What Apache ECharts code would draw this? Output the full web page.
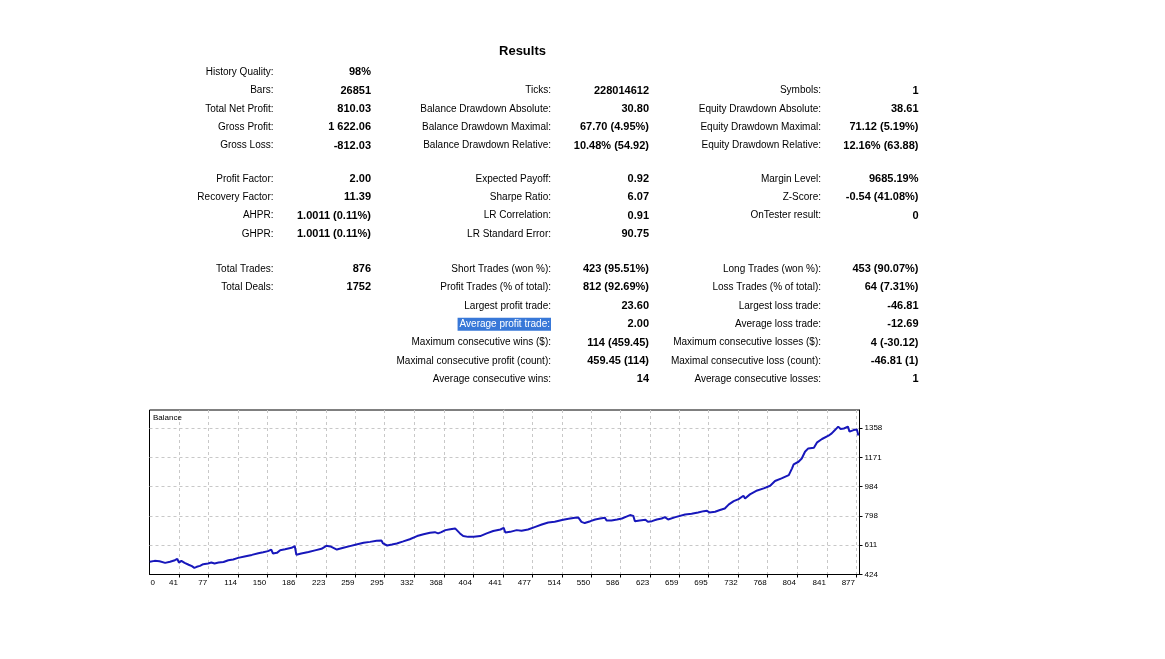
<!DOCTYPE html>
<html lang="en">
<head>
<meta charset="UTF-8">
<title>Results</title>
<script src="https://cdn.jsdelivr.net/npm/echarts@6/dist/echarts.min.js"></script>
<style>
    html, body { margin:0; padding:0; background:#fff; }
    #main { width:1165px; height:659px; }
</style>
</head>
<body>
<div id="main"></div>
<script>
// ---- report table (16 row slots, three label/value column pairs) ----
var col1Labels = ['History Quality:', 'Bars:', 'Total Net Profit:', 'Gross Profit:', 'Gross Loss:',
    'Profit Factor:', 'Recovery Factor:', 'AHPR:', 'GHPR:',
    'Total Trades:', 'Total Deals:', '', '', '', '', ''];
var col1Values = ['98%', '26851', '810.03', '1 622.06', '-812.03',
    '2.00', '11.39', '1.0011 (0.11%)', '1.0011 (0.11%)',
    '876', '1752', '', '', '', '', ''];
var col2Labels = ['', 'Ticks:', 'Balance Drawdown Absolute:', 'Balance Drawdown Maximal:', 'Balance Drawdown Relative:',
    'Expected Payoff:', 'Sharpe Ratio:', 'LR Correlation:', 'LR Standard Error:',
    'Short Trades (won %):', 'Profit Trades (% of total):', 'Largest profit trade:', 'Average profit trade:',
    'Maximum consecutive wins ($):', 'Maximal consecutive profit (count):', 'Average consecutive wins:'];
var col2Values = ['', '228014612', '30.80', '67.70 (4.95%)', '10.48% (54.92)',
    '0.92', '6.07', '0.91', '90.75',
    '423 (95.51%)', '812 (92.69%)', '23.60', '2.00', '114 (459.45)', '459.45 (114)', '14'];
var col3Labels = ['', 'Symbols:', 'Equity Drawdown Absolute:', 'Equity Drawdown Maximal:', 'Equity Drawdown Relative:',
    'Margin Level:', 'Z-Score:', 'OnTester result:', '',
    'Long Trades (won %):', 'Loss Trades (% of total):', 'Largest loss trade:', 'Average loss trade:',
    'Maximum consecutive losses ($):', 'Maximal consecutive loss (count):', 'Average consecutive losses:'];
var col3Values = ['', '1', '38.61', '71.12 (5.19%)', '12.16% (63.88)',
    '9685.19%', '-0.54 (41.08%)', '0', '',
    '453 (90.07%)', '64 (7.31%)', '-46.81', '-12.69', '4 (-30.12)', '-46.81 (1)', '1'];

// ---- balance curve: trade number / balance ----
var trades = [5, 11, 17, 24, 30, 36, 39, 41, 44, 48, 50, 53, 57, 60, 63, 67, 71, 77, 81, 85, 90, 96,
    102, 108, 114, 122, 131, 139, 145, 151, 155, 157, 162, 166, 172, 180, 184, 186, 192, 201, 209, 217,
    223, 228, 236, 244, 252, 260, 269, 277, 285, 291, 293, 298, 304, 310, 318, 326, 335, 343, 351, 357,
    361, 365, 370, 376, 382, 384, 388, 392, 398, 405, 413, 421, 429, 438, 442, 444, 450, 458, 464, 472,
    481, 489, 497, 505, 514, 522, 530, 534, 538, 542, 549, 555, 561, 567, 569, 575, 582, 588, 592, 598,
    602, 604, 610, 617, 620, 625, 631, 637, 641, 645, 654, 666, 674, 682, 689, 693, 696, 703, 709, 715,
    720, 726, 732, 738, 740, 746, 755, 763, 771, 777, 785, 794, 798, 800, 806, 810, 814, 818, 825, 829,
    835, 843, 847, 851, 855, 858, 862, 867, 869, 874, 878, 880];
var balance = [505, 511, 509, 498, 505, 515, 524, 500, 511, 498, 502, 486, 477, 466, 473, 479, 490, 494, 500, 494, 500, 504,
    515, 520, 530, 539, 549, 560, 566, 573, 583, 558, 562, 579, 585, 594, 605, 550, 558, 568, 578, 588,
    607, 603, 583, 594, 605, 615, 626, 632, 639, 641, 622, 609, 615, 622, 635, 649, 669, 681, 690, 694,
    686, 694, 707, 713, 718, 711, 686, 669, 664, 664, 669, 686, 701, 711, 722, 692, 696, 707, 703, 711,
    728, 743, 756, 760, 771, 779, 786, 788, 760, 752, 764, 775, 781, 786, 769, 769, 775, 781, 790, 803,
    798, 764, 769, 773, 760, 764, 775, 781, 790, 775, 790, 807, 811, 820, 828, 830, 820, 824, 835, 845,
    871, 892, 905, 926, 909, 935, 960, 973, 990, 1020, 1037, 1058, 1101, 1126, 1143, 1164, 1207, 1228, 1232, 1267,
    1288, 1309, 1324, 1345, 1367, 1352, 1355, 1367, 1335, 1345, 1349, 1310];

var xTicks = [41, 77, 114, 150, 186, 223, 259, 295, 332, 368, 404, 441, 477, 514, 550, 586, 623, 659, 695, 732, 768, 804, 841, 877];
var yTicks = [424, 611, 798, 984, 1171, 1358];

var xMin = 4.65, xMax = 881.3;
var yMin = 424, yMax = 1473;

var FONT = "'Liberation Sans', Arial, sans-serif";

function rowY(i) {
    if (i < 5) return 72.3 + i * 18.35;
    if (i < 9) return 178.8 + (i - 5) * 18.35;
    return 269 + (i - 9) * 18.4;
}

function txt(x, y, s, bold, extra) {
    var style = {
        text: s, fill: '#000',
        font: (bold ? 'bold 11px ' : '10px ') + FONT,
        align: 'right', textAlign: 'right',
        verticalAlign: 'middle', textVerticalAlign: 'middle'
    };
    if (extra) for (var k in extra) style[k] = extra[k];
    return { type: 'text', x: x, y: y, silent: true, style: style };
}

var graphics = [{
    type: 'text', x: 522.5, y: 51,
    style: { text: 'Results', fill: '#000', font: 'bold 13px ' + FONT,
        align: 'center', textAlign: 'center', verticalAlign: 'middle', textVerticalAlign: 'middle' }
}];
var cols = [
    [273.5, col1Labels, false], [371, col1Values, true],
    [551, col2Labels, false], [649, col2Values, true],
    [821, col3Labels, false], [918.5, col3Values, true]
];
cols.forEach(function (c) {
    c[1].forEach(function (s, i) {
        if (!s) return;
        var extra = null;
        if (c[1] === col2Labels && s === 'Average profit trade:') {
            extra = { fill: '#fff', backgroundColor: '#3878d8', padding: [2, 1, 1, 2] };
        }
        graphics.push(txt(c[0], rowY(i), s, c[2], extra));
    });
});

var chart = echarts.init(document.getElementById('main'));
chart.setOption({
    animation: false,
    backgroundColor: '#fff',
    title: {
        text: 'Balance', left: 153, top: 414, padding: 0,
        textStyle: { fontFamily: FONT, fontSize: 8, fontWeight: 'normal', color: '#000' }
    },
    grid: {
        left: 149.5, right: 305.5, top: 410, bottom: 84.5,
        show: true, borderColor: '#000', borderWidth: 1, backgroundColor: '#fff',
        outerBoundsMode: 'none'
    },
    xAxis: {
        type: 'value', min: xMin, max: xMax,
        axisLine: { show: true, onZero: false, lineStyle: { color: '#000', width: 1 } },
        axisTick: { show: true, length: 3, lineStyle: { color: '#000' }, customValues: xTicks },
        axisLabel: {
            customValues: [xMin].concat(xTicks),
            formatter: function (v) { return v < xTicks[0] ? '0' : String(v); },
            align: 'right', alignMinLabel: 'left', padding: [0, 1, 0, 1],
            margin: 4, fontFamily: FONT, fontSize: 8, color: '#000'
        },
        splitLine: { show: true, lineStyle: { color: '#c8c8c8', type: [3, 3], width: 1 } }
    },
    yAxis: {
        type: 'value', position: 'right', min: yMin, max: yMax,
        axisLine: { show: true, onZero: false, lineStyle: { color: '#000', width: 1 } },
        axisTick: { show: true, length: 3, lineStyle: { color: '#000' }, customValues: yTicks },
        axisLabel: {
            customValues: yTicks, margin: 5,
            formatter: function (v) { return String(v); },
            fontFamily: FONT, fontSize: 8, color: '#000'
        },
        splitLine: { show: true, lineStyle: { color: '#c8c8c8', type: [3, 3], width: 1 } }
    },
    series: [{
        type: 'line', name: 'Balance',
        data: trades.map(function (t, i) { return [t, balance[i]]; }),
        showSymbol: false, symbol: 'none',
        lineStyle: { color: '#1717bb', width: 2 },
        clip: true
    }],
    graphic: graphics
});
</script>
</body>
</html>
